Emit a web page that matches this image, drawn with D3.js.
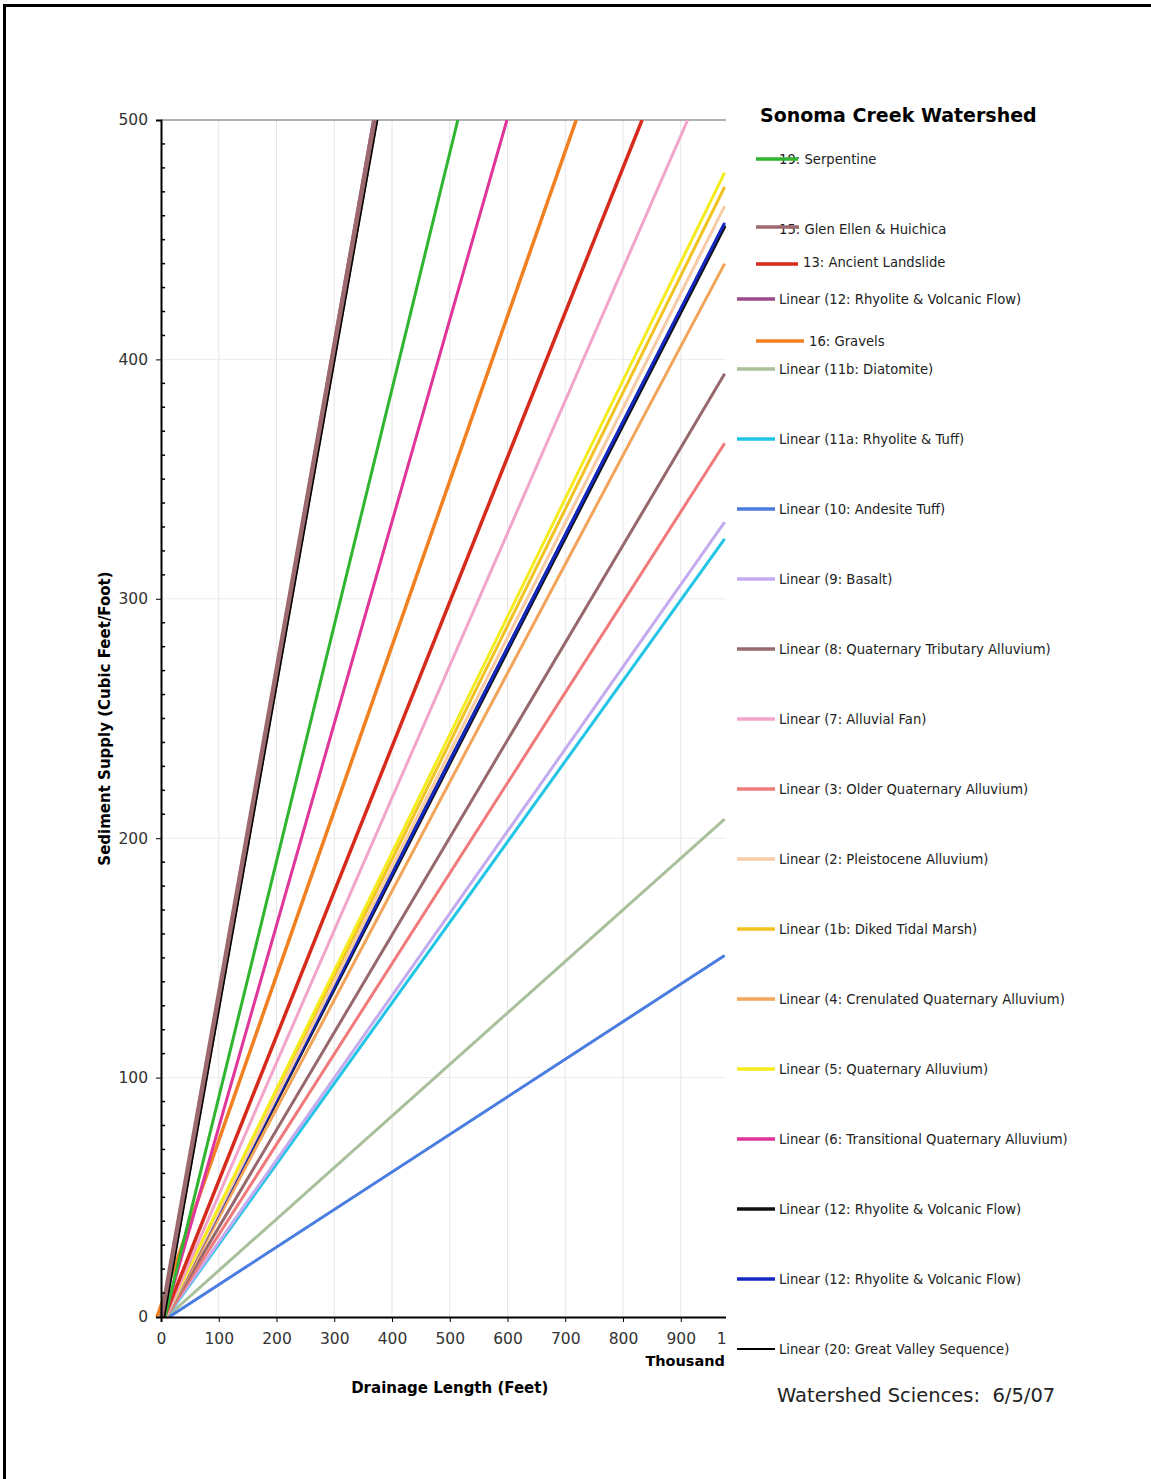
<!DOCTYPE html>
<html>
<head>
<meta charset="utf-8">
<script src="https://cdn.jsdelivr.net/npm/d3@7"></script>
<style>
  body { margin: 0; background: #fff; }
  text { font-family: "DejaVu Sans", Verdana, sans-serif; }
</style>
</head>
<body>
<div id="chart"></div>
<script>
// Axis ticks
const xTicks = [0, 100, 200, 300, 400, 500, 600, 700, 800, 900, 1000];
const yTicks = [0, 100, 200, 300, 400, 500];

// Trendlines, in legend order (x in thousand feet, y in cubic feet/foot)
const seriesNames = [
  "19: Serpentine",
  "15: Glen Ellen & Huichica",
  "13: Ancient Landslide",
  "Linear (12: Rhyolite & Volcanic Flow)",
  "16: Gravels",
  "Linear (11b: Diatomite)",
  "Linear (11a: Rhyolite & Tuff)",
  "Linear (10: Andesite Tuff)",
  "Linear (9: Basalt)",
  "Linear (8: Quaternary Tributary Alluvium)",
  "Linear (7: Alluvial Fan)",
  "Linear (3: Older Quaternary Alluvium)",
  "Linear (2: Pleistocene Alluvium)",
  "Linear (1b: Diked Tidal Marsh)",
  "Linear (4: Crenulated Quaternary Alluvium)",
  "Linear (5: Quaternary Alluvium)",
  "Linear (6: Transitional Quaternary Alluvium)",
  "Linear (12: Rhyolite & Volcanic Flow)",
  "Linear (12: Rhyolite & Volcanic Flow)",
  "Linear (20: Great Valley Sequence)"
];
// where each line leaves the x axis
const startX = [7, 2, 6, 3, -7, 10, 10, 14, 9, 8, 8, 9, 8, 8, 9, 7, 6, 8, 8, 6];
// where each line leaves the plot (top or right edge)
const endX = [514, 371, 833, 368, 719, 976, 976, 976, 976, 976, 912, 976, 976, 976, 976, 976, 599, 976, 976, 375];
const endY = [500, 500, 500, 500, 500, 208, 325, 151, 332, 394, 500, 365, 464, 472, 440, 478, 500, 456, 457, 500];

const seriesColors = [
  "#2fb52f", "#9c6a6e", "#d62a1c", "#9b4a87", "#f08020",
  "#a9c09a", "#22c5e5", "#4a7de0", "#c4abf0", "#96676b",
  "#f2a5cb", "#f07a7a", "#f6cba5", "#f2c320", "#f2a55a",
  "#f5ec1e", "#e0359a", "#111111", "#1428c4", "#000000"
];
const seriesWidths = [3, 6, 3.5, 3, 3.5, 3, 3, 3, 3, 3, 3, 3, 3, 3, 3, 3, 3, 4.5, 3, 1.5];
// drawing order (bottom first)
const drawOrder = [13, 17, 5, 7, 6, 8, 11, 9, 14, 18, 12, 15, 10, 2, 4, 16, 0, 3, 1, 19];

function createChart(selector) {
  const width = 1151;
  const height = 1479;

  const svg = d3.select(selector)
    .append("svg")
    .attr("width", width)
    .attr("height", height);

  // page frame
  svg.append("rect")
    .attr("x", 4.5).attr("y", 5.5)
    .attr("width", 1200).attr("height", 1500)
    .attr("fill", "none")
    .attr("stroke", "#000")
    .attr("stroke-width", 3);

  const xScale = d3.scaleLinear().domain([0, 1000]).range([161, 738.5]);
  const yScale = d3.scaleLinear().domain([0, 500]).range([1317, 120]);

  // grid
  const grid = svg.append("g");
  grid.selectAll(".vg")
    .data(xTicks.slice(1))
    .join("line")
    .attr("x1", d => xScale(d)).attr("x2", d => xScale(d))
    .attr("y1", yScale(0)).attr("y2", yScale(500))
    .attr("stroke", "#e6e6e6").attr("stroke-width", 1);
  grid.selectAll(".hg")
    .data(yTicks.slice(1, -1))
    .join("line")
    .attr("x1", xScale(0)).attr("x2", xScale(1000))
    .attr("y1", d => yScale(d)).attr("y2", d => yScale(d))
    .attr("stroke", "#ececec").attr("stroke-width", 1);
  grid.append("line")
    .attr("x1", xScale(0)).attr("x2", xScale(1000))
    .attr("y1", yScale(500)).attr("y2", yScale(500))
    .attr("stroke", "#999").attr("stroke-width", 1.5);

  // clip lines to plot
  svg.append("clipPath").attr("id", "plotClip")
    .append("rect")
    .attr("x", xScale(0) - 8).attr("y", yScale(500))
    .attr("width", xScale(1000) - xScale(0) + 8)
    .attr("height", yScale(0) - yScale(500));

  const line = d3.line()
    .x(d => xScale(d[0]))
    .y(d => yScale(d[1]));

  svg.append("g")
    .attr("clip-path", "url(#plotClip)")
    .selectAll("path")
    .data(drawOrder)
    .join("path")
    .attr("fill", "none")
    .attr("stroke", i => seriesColors[i])
    .attr("stroke-width", i => seriesWidths[i])
    .attr("d", i => line([[startX[i], 0], [endX[i], endY[i]]]));

  // y axis: major ticks out, minor ticks in
  const yAxis = svg.append("g")
    .attr("transform", `translate(${xScale(0)},0)`)
    .call(d3.axisLeft(yScale).tickValues(yTicks).tickSize(5).tickPadding(8));
  yAxis.select(".domain").attr("stroke-width", 2);
  yAxis.selectAll("text").attr("font-size", 15.5).attr("fill", "#333");

  svg.append("g")
    .attr("transform", `translate(${xScale(0)},0)`)
    .selectAll("line")
    .data(d3.range(10, 500, 10).filter(v => v % 100 !== 0))
    .join("line")
    .attr("x1", 0).attr("x2", 4)
    .attr("y1", d => yScale(d)).attr("y2", d => yScale(d))
    .attr("stroke", "#000").attr("stroke-width", 1.5);

  // x axis
  const xAxis = svg.append("g")
    .attr("transform", `translate(0,${yScale(0)})`)
    .call(d3.axisBottom(xScale).tickValues(xTicks).tickSize(5).tickPadding(11));
  xAxis.select(".domain").attr("stroke-width", 2);
  xAxis.selectAll("text").attr("font-size", 15.5).attr("fill", "#333");

  // the legend panel covers the right end of the plot
  svg.append("rect")
    .attr("x", 726).attr("y", 100)
    .attr("width", 420).attr("height", 1330)
    .attr("fill", "#fff");

  svg.append("text")
    .attr("x", 725).attr("y", 1366)
    .attr("text-anchor", "end")
    .attr("font-size", 14.5).attr("font-weight", "bold")
    .text("Thousand");

  svg.append("text")
    .attr("x", xScale(500)).attr("y", 1393)
    .attr("text-anchor", "middle")
    .attr("font-size", 15).attr("font-weight", "bold")
    .text("Drainage Length (Feet)");

  svg.append("text")
    .attr("transform", `translate(110,${yScale(250)}) rotate(-90)`)
    .attr("text-anchor", "middle")
    .attr("font-size", 15).attr("font-weight", "bold")
    .text("Sediment Supply (Cubic Feet/Foot)");

  // legend
  svg.append("text")
    .attr("x", 760).attr("y", 122)
    .attr("font-size", 19).attr("font-weight", "bold")
    .text("Sonoma Creek Watershed");

  // row layout: swatch start/end, text x, row y
  const rowY = [159, 227, 264, 299, 341].concat(d3.range(369, 1350, 70));
  const swatchX0 = [756, 756, 756, 737, 756].concat(d3.range(15).map(() => 737));
  const swatchX1 = [798, 799, 798, 775, 804].concat(d3.range(15).map(() => 775));
  const textX = [779, 779, 803, 779, 809].concat(d3.range(15).map(() => 779));

  const rows = svg.append("g")
    .selectAll("g")
    .data(seriesNames.map((n, i) => i))
    .join("g");

  rows.append("text")
    .attr("x", i => textX[i])
    .attr("y", i => rowY[i] + (i === 1 ? 2 : i === 2 ? -2 : 0))
    .attr("dy", "0.35em")
    .attr("font-size", 13.2)
    .attr("fill", "#222")
    .text(i => seriesNames[i]);

  rows.append("line")
    .attr("x1", i => swatchX0[i]).attr("x2", i => swatchX1[i])
    .attr("y1", i => rowY[i]).attr("y2", i => rowY[i])
    .attr("stroke", i => seriesColors[i])
    .attr("stroke-width", i => i === 19 ? 2 : 3.5);

  svg.append("text")
    .attr("x", 777).attr("y", 1402)
    .attr("font-size", 19.5)
    .attr("fill", "#222")
    .style("white-space", "pre")
    .text("Watershed Sciences:  6/5/07");
}

createChart("#chart");
</script>
</body>
</html>
